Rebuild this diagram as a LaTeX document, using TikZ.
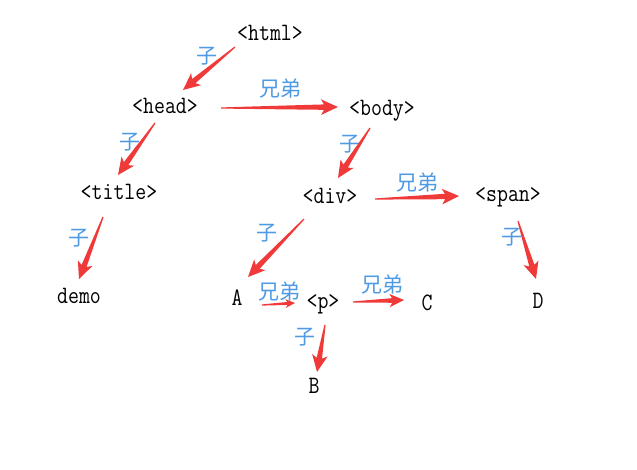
\documentclass[tikz,border=0pt]{standalone}
\usepackage{fontspec}
\usepackage{xcolor}
\usetikzlibrary{calc}
\newfontfamily\cjk{Noto Sans CJK SC}
\definecolor{arrowred}{RGB}{240,58,58}
\definecolor{labelblue}{RGB}{78,154,228}
\tikzset{
    tag/.style={font=\ttfamily\fontsize{25}{30}\selectfont, xscale=0.85, transform shape,
        inner sep=0pt, text height=17pt, text depth=4pt},
    rel/.style={font=\cjk\fontsize{21}{24}\selectfont, text=labelblue, inner sep=0pt}
}
% tapered red arrow: [size]{tail}{tip}
\newcommand{\redarrow}[3][1]{%
    \fill[arrowred] ($(#2)!0.6pt!90:(#3)$)
        -- ($(#3)!#1*14pt!(#2)!#1*2.7pt!90:(#3)$)
        -- ($(#3)!#1*17pt!(#2)!#1*7.8pt!90:(#3)$) -- (#3)
        -- ($(#3)!#1*17pt!(#2)!#1*7.8pt!-90:(#3)$)
        -- ($(#3)!#1*14pt!(#2)!#1*2.7pt!-90:(#3)$)
        -- ($(#2)!0.6pt!-90:(#3)$) -- cycle;}
\begin{document}
\begin{tikzpicture}[x=1pt, y=-1pt]
    \useasboundingbox[fill=white] (0,0) rectangle (637,469);

    % Elements
    \node[tag] (html) at (270,34) {<html>};
    \node[tag] (head) at (165,107) {<head>};
    \node[tag] (body) at (382,109) {<body>};
    \node[tag] (title) at (119,193) {<title>};
    \node[tag] (div) at (330,197) {<div>};
    \node[tag] (span) at (508,195) {<span>};
    \node[tag] (demo) at (79,297) {demo};
    \node[tag] (A) at (237,299) {A};
    \node[tag] (p) at (323,302) {<p>};
    \node[tag] (C) at (427,304) {C};
    \node[tag] (D) at (538,302) {D};
    \node[tag] (B) at (314,387) {B};

    % Relation labels
    \node[rel] (r1) at (207,56) {子};
    \node[rel] (r2) at (280,89) {兄弟};
    \node[rel] (r3) at (130,142) {子};
    \node[rel] (r4) at (350,144) {子};
    \node[rel] (r5) at (417,183) {兄弟};
    \node[rel] (r6) at (79,238) {子};
    \node[rel] (r7) at (267,233) {子};
    \node[rel] (r8) at (512,237) {子};
    \node[rel] (r9) at (279,292) {兄弟};
    \node[rel] (r10) at (382,285) {兄弟};
    \node[rel] (r11) at (305,337) {子};

    % Arrow ends
    \coordinate (html-out) at (235,47);   \coordinate (head-in) at (183,90);
    \coordinate (head-out) at (221,108);  \coordinate (body-in) at (338,107);
    \coordinate (head-down) at (155,123); \coordinate (title-in) at (118,175);
    \coordinate (body-out) at (370,128);  \coordinate (div-in) at (338,178);
    \coordinate (div-out) at (375,199);   \coordinate (span-in) at (459,196);
    \coordinate (title-out) at (103,217); \coordinate (demo-in) at (79,279);
    \coordinate (div-down) at (304,219);  \coordinate (A-in) at (248,277);
    \coordinate (span-out) at (518,221);  \coordinate (D-in) at (536,279);
    \coordinate (A-out) at (262,305);     \coordinate (p-in) at (295,303);
    \coordinate (p-out) at (353,302);     \coordinate (C-in) at (404,300);
    \coordinate (p-down) at (325,325);    \coordinate (B-in) at (317,372);

    % Arrows
    \redarrow{html-out}{head-in}
    \redarrow{head-out}{body-in}
    \redarrow{head-down}{title-in}
    \redarrow{body-out}{div-in}
    \redarrow{div-out}{span-in}
    \redarrow{title-out}{demo-in}
    \redarrow{div-down}{A-in}
    \redarrow{span-out}{D-in}
    \redarrow[0.55]{A-out}{p-in}
    \redarrow[0.85]{p-out}{C-in}
    \redarrow{p-down}{B-in}
\end{tikzpicture}
\end{document}
